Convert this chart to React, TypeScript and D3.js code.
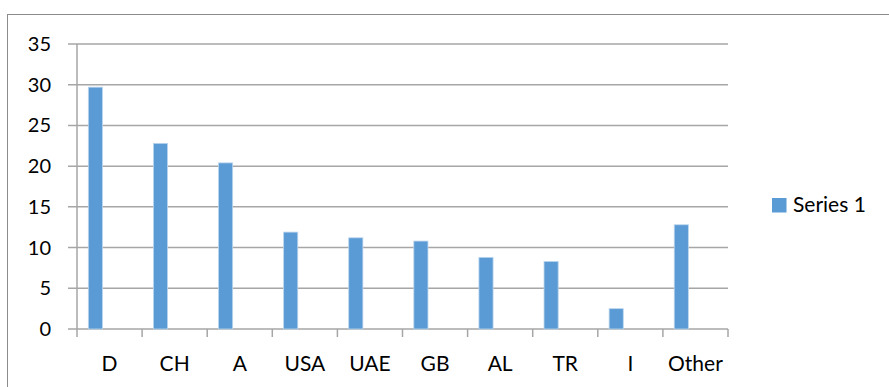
import React from 'react';
import * as d3 from 'd3';

// chart data
const categories = ['D', 'CH', 'A', 'USA', 'UAE', 'GB', 'AL', 'TR', 'I', 'Other'];
const series1 = [29.7, 22.8, 20.4, 11.9, 11.2, 10.8, 8.8, 8.3, 2.5, 12.8];
const yTicks = [0, 5, 10, 15, 20, 25, 30, 35];
const seriesName = 'Series 1';

const W = 889;
const H = 387;
const margin = { top: 44, right: 161, bottom: 58, left: 77 };
const FONT = 'Lato, "Open Sans", sans-serif';

const App = () => {
  const innerW = W - margin.left - margin.right;
  const innerH = H - margin.top - margin.bottom;

  const x = d3.scaleBand().domain(categories).range([0, innerW]).padding(0);
  // Excel-style slot: series sits in first of three slots of each category
  const slot = d3.scaleBand().domain(['s1', 's2', 's3']).range([0, x.bandwidth()]).paddingOuter(0.8).paddingInner(0);
  const y = d3.scaleLinear().domain([0, 35]).range([innerH, 0]);

  const grid = '#a6a6a6';

  return (
    <svg width={W} height={H} style={{ display: 'block', position: 'absolute', left: 0, top: 0 }}>
      <rect x={7.5} y={14.5} width={W} height={H} fill="white" stroke="#8c8c8c" strokeWidth={1} />
      <g transform={`translate(${margin.left},${margin.top})`}>
        {yTicks.map((t) => (
          <g key={t}>
            <line x1={-9} x2={innerW} y1={y(t)} y2={y(t)} stroke={grid} strokeWidth={1.5} />
            <text x={-26} y={y(t)} dy="0.35em" textAnchor="end" fontFamily={FONT} fontSize={20} fill="#000">
              {t}
            </text>
          </g>
        ))}
        <line x1={0} x2={0} y1={0} y2={innerH} stroke={grid} strokeWidth={1.5} />
        {categories.map((c, i) => (
          <rect
            key={c}
            x={(x(c) ?? 0) + (slot('s1') ?? 0)}
            y={y(series1[i])}
            width={slot.bandwidth()}
            height={innerH - y(series1[i])}
            fill="#5b9bd5"
            stroke="#bcd6ee"
            strokeWidth={0.8}
          />
        ))}
        {[...categories.map((c) => x(c) ?? 0), innerW].map((px, i) => (
          <line key={i} x1={px} x2={px} y1={innerH} y2={innerH + 8} stroke={grid} strokeWidth={1.5} />
        ))}
        {categories.map((c) => (
          <text
            key={c}
            x={(x(c) ?? 0) + x.bandwidth() / 2}
            y={innerH + 35}
            dy="0.35em"
            textAnchor="middle"
            fontFamily={FONT}
            fontSize={21}
            fill="#000"
          >
            {c}
          </text>
        ))}
      </g>
      <g transform="translate(772,198)">
        <rect width={14.5} height={14.5} fill="#5b9bd5" />
        <text x={21} y={7} dy="0.35em" fontFamily={FONT} fontSize={21} fill="#000">
          {seriesName}
        </text>
      </g>
    </svg>
  );
};

export default App;
